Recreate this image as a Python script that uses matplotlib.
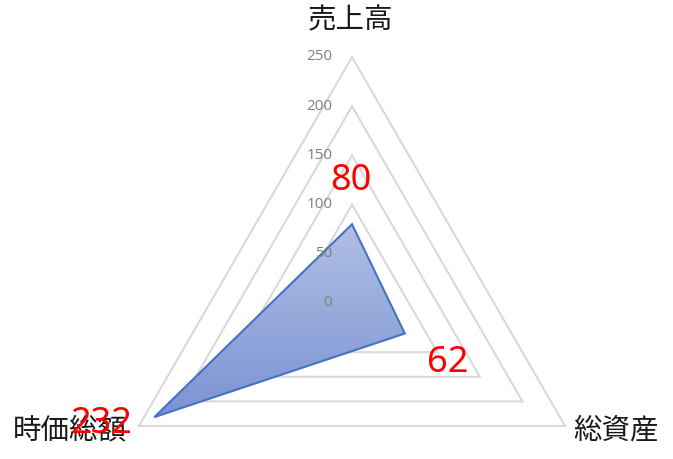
import numpy as np
import matplotlib
matplotlib.use("Agg")
import matplotlib.pyplot as plt
from matplotlib.patches import Polygon
from matplotlib.colors import LinearSegmentedColormap

plt.rcParams['font.family'] = ['Noto Sans CJK JP', 'DejaVu Sans']

# data
categories = ['売上高', '総資産', '時価総額']
values = [80, 62, 232]
ticks = [0, 50, 100, 150, 200, 250]
grid_levels = [50, 100, 150, 200, 250]

# angles: top, bottom right, bottom left (clockwise)
angles = np.deg2rad([90, -30, 210])

def to_xy(r):
    r = np.asarray(r, dtype=float)
    return r * np.cos(angles), r * np.sin(angles)

fig = plt.figure(figsize=(6.73, 4.59), dpi=100)
ax = fig.add_axes([0, 0, 1, 1])
scale = 246 / 250  # pixels per unit
xlim = (-352 / scale, (673 - 352) / scale)
ylim = (-(459 - 303) / scale, 303 / scale)
ax.set_aspect('equal')
ax.axis('off')

# triangular grid
for lv in grid_levels:
    gx, gy = to_xy([lv] * 3)
    ax.add_patch(Polygon(np.column_stack([gx, gy]), closed=True, fill=False,
                         edgecolor='#d9d9d9', lw=1.5, zorder=1))

# data polygon with vertical gradient
vx, vy = to_xy(values)
poly = Polygon(np.column_stack([vx, vy]), closed=True, facecolor='none',
               edgecolor='#4472c4', lw=1.5, zorder=4)
ax.add_patch(poly)
cmap = LinearSegmentedColormap.from_list('grad', ['#7b93d2', '#b0bfe4'])
grad = np.linspace(0, 1, 256).reshape(-1, 1)
im = ax.imshow(grad, cmap=cmap, origin='lower', aspect='auto',
               extent=[vx.min(), vx.max(), vy.min(), vy.max()], zorder=3)
clip = Polygon(np.column_stack([vx, vy]), closed=True, transform=ax.transData)
im.set_clip_path(clip)
ax.set_xlim(*xlim)
ax.set_ylim(*ylim)

# axis tick labels
for t in ticks:
    ax.text(-20, t, str(t), ha='right', va='center', fontsize=11,
            color='#7f7f7f', family=['Open Sans', 'DejaVu Sans'], zorder=5)

# category labels
ox, oy = to_xy([250] * 3)
cat_off = [(-1.4, 26.6), (36.7, -2.9), (-49.7, -2.9)]
for i, c in enumerate(categories):
    ax.annotate(c, (ox[i], oy[i]), xytext=cat_off[i], textcoords='offset points',
                ha='center', va='center', fontsize=20.5, color='#1a1a1a', zorder=6)

# data labels
lab_off = [(-0.7, 31), (31, -21.5), (-38, -5)]
for i, v in enumerate(values):
    ax.annotate(str(v), (vx[i], vy[i]), xytext=lab_off[i], textcoords='offset points',
                ha='center', va='center', fontsize=26, color='#ff0000',
                family=['Noto Sans', 'DejaVu Sans'], zorder=7)

fig.savefig('out.png', dpi=100)
